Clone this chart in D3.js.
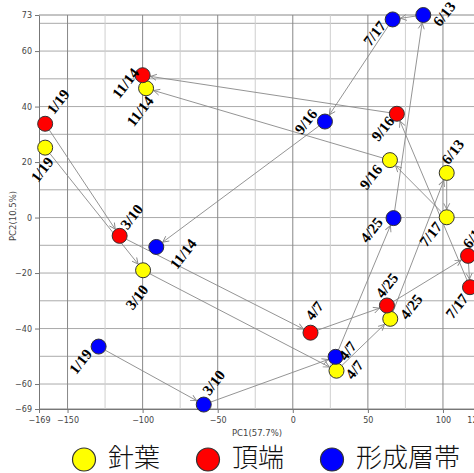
<!DOCTYPE html>
<html>
<head>
<meta charset="utf-8">
<script src="https://cdn.jsdelivr.net/npm/d3@7"></script>
<style>
  html, body { margin: 0; padding: 0; background: #fff; }
  svg { display: block; }
</style>
</head>
<body>
<svg id="chart" width="474" height="473"></svg>
<script>
// Sampling dates (in order of the seasonal trajectory)
const dates = ["1/19", "3/10", "4/7", "4/25", "6/13", "7/17", "9/16", "11/14"];

// PCA scores per tissue
const needlePC1  = [-164.9, -99.7, 29.1, 64.9, 102.5, 102.5, 64.7, -97.7];
const needlePC2  = [25.2, -19.0, -55.2, -36.5, 16.1, 0.1, 20.7, 46.6];
const apexPC1    = [-164.9, -115.3, 11.8, 62.7, 116.7, 118.0, 69.3, -100.0];
const apexPC2    = [33.8, -6.6, -41.5, -31.7, -13.8, -25.1, 37.4, 51.3];
const cambiumPC1 = [-129.3, -59.3, 28.5, 67.1, 86.9, 66.5, 21.4, -90.9];
const cambiumPC2 = [-46.5, -67.4, -50.2, -0.2, 73.0, 71.4, 34.6, -10.6];

const seriesNames = ["針葉", "頂端", "形成層帯"];

// Axis ticks
const xTicks = [-169, -150, -100, -50, 0, 50, 100, 121];
const yTicks = [-69, -60, -40, -20, 0, 20, 40, 60, 73];
const xTitle = "PC1(57.7%)";
const yTitle = "PC2(10.5%)";

// Date-label placement around each marker (pixel offsets of the label centre)
const needleLabelOffset  = [[-3,22],[-6,27],[18,-1],[21,-12],[6,-21],[-16,17],[-19,17],[-6,23]];
const apexLabelOffset    = [[13,-22],[12,-19],[4,-22],[0,-20],[6,-20],[-13,19],[-14,15],[-17,8]];
const cambiumLabelOffset = [[-18,15],[10,-22],[12,-6],[-22,12],[21,-1],[-18,14],[-19,0],[27,7]];

const colors = ["#ffff00", "#ff0000", "#0000ff"];

const series = [
  { name: seriesNames[0], color: colors[0], pc1: needlePC1,  pc2: needlePC2,  off: needleLabelOffset },
  { name: seriesNames[1], color: colors[1], pc1: apexPC1,    pc2: apexPC2,    off: apexLabelOffset },
  { name: seriesNames[2], color: colors[2], pc1: cambiumPC1, pc2: cambiumPC2, off: cambiumLabelOffset }
];

const svg = d3.select("#chart");
const plotLeft = 39, plotRight = 474.5, plotTop = 15, plotBottom = 409;
const x = d3.scaleLinear().domain([-169, 121]).range([plotLeft, plotRight]);
const y = d3.scaleLinear().domain([-69, 73]).range([plotBottom, plotTop]);
const R = 7.5;

// Grid: horizontal every 10, vertical every 25 (stronger every 50)
const g = svg.append("g");
g.selectAll("line.h").data(d3.range(-60, 80, 10).concat([-69, 73]))
  .join("line")
  .attr("x1", plotLeft).attr("x2", plotRight)
  .attr("y1", d => y(d)).attr("y2", d => y(d))
  .attr("stroke", d => (d === 73 || d === -69) ? "#888" : "#aaa")
  .attr("stroke-width", 1);
g.selectAll("line.v").data(d3.range(-150, 125, 25))
  .join("line")
  .attr("y1", plotTop).attr("y2", plotBottom)
  .attr("x1", d => x(d)).attr("x2", d => x(d))
  .attr("stroke", d => d % 50 === 0 ? "#888" : "#cfcfcf")
  .attr("stroke-width", 1);

// Axes
const xAxis = d3.axisBottom(x).tickValues(xTicks).tickSize(4).tickSizeOuter(0).tickFormat(d3.format("d"));
const yAxis = d3.axisLeft(y).tickValues(yTicks).tickSize(4).tickSizeOuter(0).tickFormat(d3.format("d"));
const gx = svg.append("g").attr("transform", `translate(0,${plotBottom})`).call(xAxis);
const gy = svg.append("g").attr("transform", `translate(${plotLeft},0)`).call(yAxis);
[gx, gy].forEach(a => {
  a.select(".domain").attr("stroke", "#777");
  a.selectAll(".tick line").attr("stroke", "#777");
  a.selectAll("text").attr("fill", "#444").style("font-family", "DejaVu Sans, sans-serif").style("font-size", "8px");
});
gx.selectAll("text").attr("dy", "0.9em");

svg.append("text").attr("x", 257).attr("y", 436)
  .attr("text-anchor", "middle").attr("fill", "#444")
  .style("font-family", "DejaVu Sans, sans-serif").style("font-size", "8.5px")
  .text(xTitle);
svg.append("text").attr("transform", "translate(16,216) rotate(-90)")
  .attr("text-anchor", "middle").attr("fill", "#444")
  .style("font-family", "DejaVu Sans, sans-serif").style("font-size", "8.5px")
  .text(yTitle);

// Arrow marker
svg.append("defs").append("marker")
  .attr("id", "arrow").attr("markerUnits", "userSpaceOnUse")
  .attr("viewBox", "-7 -4 8 8").attr("refX", 0).attr("refY", 0)
  .attr("markerWidth", 8).attr("markerHeight", 8).attr("orient", "auto")
  .append("path").attr("d", "M-6,-3L0,0L-6,3")
  .attr("fill", "none").attr("stroke", "#888").attr("stroke-width", 0.9);

// Trajectory arrows between consecutive sampling dates
const arrows = [];
series.forEach(s => {
  for (let i = 0; i < dates.length - 1; i++) {
    const x0 = x(s.pc1[i]), y0 = y(s.pc2[i]);
    const x1 = x(s.pc1[i + 1]), y1 = y(s.pc2[i + 1]);
    const L = Math.hypot(x1 - x0, y1 - y0);
    const ux = (x1 - x0) / L, uy = (y1 - y0) / L;
    arrows.push({ x0: x0 + ux * R, y0: y0 + uy * R, x1: x1 - ux * (R + 0.5), y1: y1 - uy * (R + 0.5) });
  }
});
svg.append("g").selectAll("line").data(arrows).join("line")
  .attr("x1", d => d.x0).attr("y1", d => d.y0)
  .attr("x2", d => d.x1).attr("y2", d => d.y1)
  .attr("stroke", "#888").attr("stroke-width", 0.9)
  .attr("marker-end", "url(#arrow)");

// Points
series.forEach(s => {
  svg.append("g").selectAll("circle").data(dates).join("circle")
    .attr("cx", (d, i) => x(s.pc1[i])).attr("cy", (d, i) => y(s.pc2[i]))
    .attr("r", R).attr("fill", s.color)
    .attr("stroke", "#333").attr("stroke-width", 1);
});

// Date labels
series.forEach(s => {
  svg.append("g").selectAll("text").data(dates).join("text")
    .attr("transform", (d, i) => `translate(${x(s.pc1[i]) + s.off[i][0]},${y(s.pc2[i]) + s.off[i][1]}) rotate(-52)`)
    .attr("text-anchor", "middle").attr("dominant-baseline", "central")
    .style("font-family", "Liberation Serif, Times New Roman, serif")
    .style("font-weight", "bold").style("font-size", "15px")
    .attr("fill", "#000")
    .text(d => d);
});

// Legend
const legendX = [84, 208, 332];
const leg = svg.append("g");
series.forEach((s, i) => {
  leg.append("circle").attr("cx", legendX[i]).attr("cy", 459.5).attr("r", 11.5)
    .attr("fill", s.color).attr("stroke", "#333").attr("stroke-width", 1.2);
  leg.append("text").attr("x", legendX[i] + 24).attr("y", 467)
    .style("font-family", "Noto Sans CJK JP, sans-serif")
    .style("font-weight", "300").style("font-size", "26px")
    .attr("fill", "#111")
    .text(s.name);
});
</script>
</body>
</html>
